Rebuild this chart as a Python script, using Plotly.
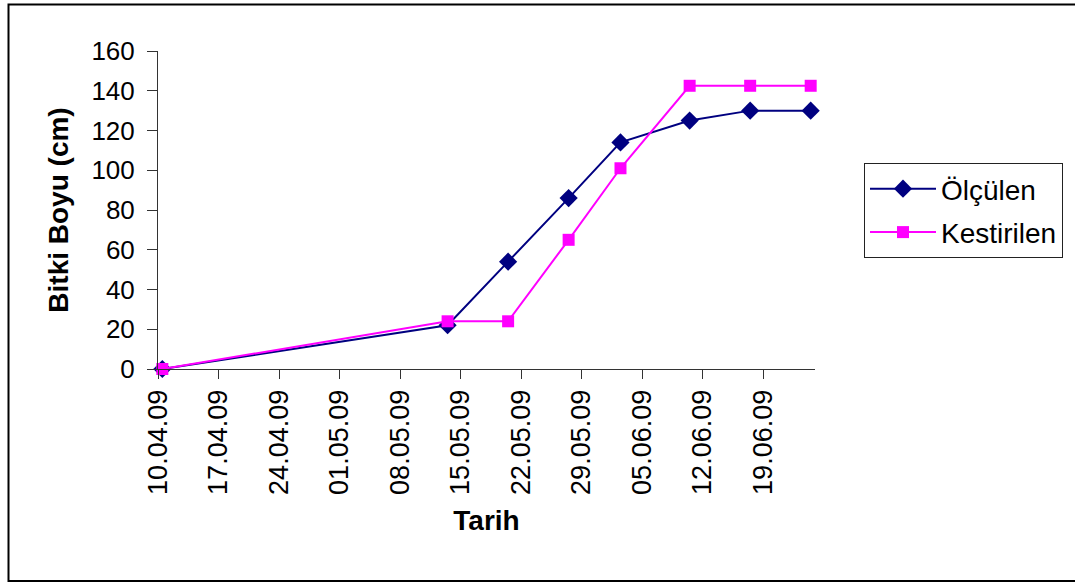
import pandas as pd
import plotly.graph_objects as go

# Measurement dates and plant heights (cm)
dates = ["2009-04-10", "2009-05-13", "2009-05-20", "2009-05-27",
         "2009-06-02", "2009-06-10", "2009-06-17", "2009-06-24"]
olculen = [0, 22, 54, 86, 114, 125, 130, 130]
kestirilen = [0, 24, 24, 65, 101, 142.5, 142.5, 142.5]

# Weekly date ticks
tick_start = "2009-04-10"
tick_end = "2009-06-19"
axis_end = "2009-06-25"

FONT = "Liberation Sans, Arial, sans-serif"

# points sit in the middle of their day slot on the date axis
x = pd.to_datetime(dates) + pd.Timedelta(hours=12)
tickvals = pd.date_range(tick_start, tick_end, freq="7D")

fig = go.Figure()
fig.add_trace(go.Scatter(
    x=x, y=olculen, name="Ölçülen", mode="lines+markers",
    legendgroup="a", cliponaxis=False,
    line=dict(color="#000080", width=2),
    marker=dict(symbol="diamond", size=14, color="#000080"),
))
fig.add_trace(go.Scatter(
    x=x, y=kestirilen, name="Kestirilen", mode="lines+markers",
    legendgroup="b", cliponaxis=False,
    line=dict(color="#FF00FF", width=2),
    marker=dict(symbol="square", size=12, color="#FF00FF"),
))

W, H = 1075, 582
L, R, T, B = 158, 815, 51, 369


def px_to_paper(px, py):
    return (px - L) / (R - L), (B - py) / (B - T)


fx0, fy0 = px_to_paper(8.5, 581)
fx1, fy1 = px_to_paper(1085, 4.5)
lx, ly = px_to_paper(864, 163)

fig.update_layout(
    width=W, height=H,
    margin=dict(l=L, r=W - R, t=T, b=H - B),
    paper_bgcolor="white", plot_bgcolor="white",
    font=dict(family=FONT, color="black"),
    showlegend=True,
    legend=dict(
        x=lx, y=ly, xanchor="left", yanchor="top",
        font=dict(size=28, family=FONT),
        bordercolor="#222", borderwidth=1,
        bgcolor="white", tracegroupgap=4,
        itemwidth=66,
    ),
    shapes=[dict(type="rect", xref="paper", yref="paper",
                 x0=fx0, x1=fx1, y0=fy0, y1=fy1,
                 line=dict(color="black", width=2), layer="below")],
)

fig.update_xaxes(
    type="date", range=[tick_start, axis_end],
    tickmode="array", tickvals=tickvals, tickformat="%d.%m.%y",
    tickangle=-90, tickfont=dict(size=27),
    ticks="outside", ticklen=9, tickcolor="#333", tickwidth=1,
    showline=True, linecolor="#333", linewidth=1,
    showgrid=False, zeroline=False,
    title=dict(text="<b>Tarih</b>", font=dict(size=28), standoff=16),
)
fig.update_yaxes(
    range=[0, 160], dtick=20, tickfont=dict(size=26),
    ticks="outside", ticklen=10, tickcolor="#333", tickwidth=1,
    ticklabelstandoff=7,
    showline=True, linecolor="#333", linewidth=1,
    showgrid=False, zeroline=False,
    title=dict(text="<b>Bitki Boyu (cm)</b>", font=dict(size=28), standoff=14),
)

fig.write_html("out.html")
